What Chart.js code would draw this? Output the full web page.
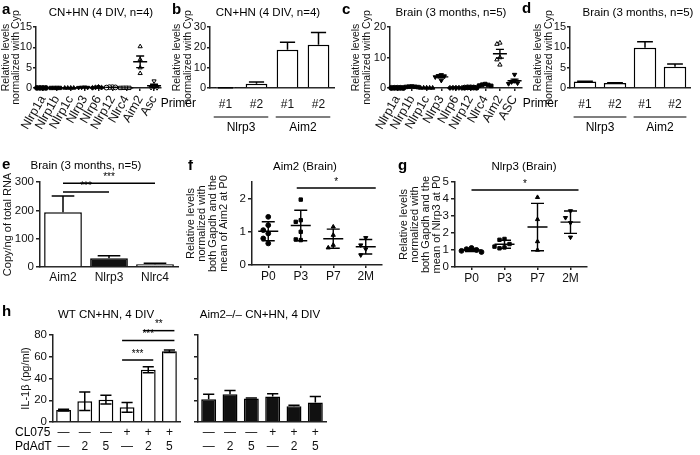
<!DOCTYPE html>
<html><head><meta charset="utf-8">
<script src="https://cdn.jsdelivr.net/npm/chart.js@4.4.1/dist/chart.umd.min.js"></script>
<style>
html,body{margin:0;padding:0;background:#fff;}
body{position:relative;width:700px;height:455px;overflow:hidden;}
canvas{position:absolute;}
</style></head><body>
<script>
// ---------------- DATA ----------------
// a: CN+HN (4 DIV, n=4)
const catsA = ['Nlrp1a','Nlrp1b','Nlrp1c','Nlrp3','Nlrp6','Nlrp12','Nlrc4','Aim2','Asc'];
const valsA = [
  [0.02,0.01,0.02,0.01],
  [0.03,0.02,0.02,0.01],
  [0.01,0.02,0.01,0.01],
  [0.2,0.15,0.1,0.12],
  [0.25,0.1,0.15,0.05],
  [0.2,0.15,0.2,0.1],
  [0.05,0.03,0.04,0.02],
  [10.2,7.0,5.0,3.6],
  [1.7,0.3,0.1,0.05]
];
const yTicksA = [0,5,10,15];
// b: CN+HN primers
const primersB = ['#1','#2','#1','#2'];
const genesB = ['Nlrp3','Aim2'];
const meanB = [0.1,2.1,18.8,21.3];
const semB = [0.05,0.9,3.7,6.0];
const yTicksB = [0,10,20,30];
// c: Brain (3 months, n=5)
const catsC = ['Nlrp1a','Nlrp1b','Nlrp1c','Nlrp3','Nlrp6','Nlrp12','Nlrc4','Aim2','ASC'];
const valsC = [
  [0.05,0.04,0.06,0.03,0.05],
  [0.5,0.4,0.35,0.45,0.3],
  [0.05,0.03,0.04,0.06,0.02],
  [4.3,4.0,3.9,3.6,2.5],
  [0.05,0.04,0.03,0.06,0.05],
  [0.2,0.15,0.1,0.2,0.12],
  [1.3,1.1,1.0,0.8,0.7],
  [14.8,14.4,10.0,9.3,7.6],
  [4.4,2.4,2.0,1.6,1.4]
];
const yTicksC = [0,5,10,15,20];
// d: Brain primers
const primersD = ['#1','#2','#1','#2'];
const genesD = ['Nlrp3','Aim2'];
const meanD = [1.6,1.2,9.9,5.25];
const semD = [0.05,0.12,1.5,0.65];
const yTicksD = [0,5,10,15];
// e: copies
const catsE = ['Aim2','Nlrp3','Nlrc4'];
const meanE = [193,31,10];
const semE = [58,9,3];
const yTicksE = [0,100,200,300];
const sigE = [[0,1,265,'***'],[0,2,296,'***']];
// f: Aim2 (Brain)
const timeF = ['P0','P3','P7','2M'];
const valsF = [
  [1.45,1.2,1.05,0.95,0.8,0.65],
  [1.97,1.35,1.3,1.0,0.77,0.75],
  [1.15,0.9,0.6,0.52],
  [0.82,0.6,0.48,0.3]
];
const yTicksF = [0,0.5,1,1.5,2,2.5];
const sigF = [[1,3,2.32,'*']];
// g: Nlrp3 (Brain)
const timeG = ['P0','P3','P7','2M'];
const valsG = [
  [1.12,1.05,1.0,0.95,0.88],
  [1.65,1.6,1.35,1.2,1.15,1.1],
  [4.1,2.8,1.5,1.0],
  [3.3,2.9,2.6,1.75]
];
const yTicksG = [0,1,2,3,4,5];
const sigG = [[0,3,4.53,'*']];
// h: IL-1beta
const cl075 = ['—','—','—','+','+','+'];
const pdadt = ['—','2','5','—','2','5'];
const il1bWT = [11,19,20.5,13.5,48,65];
const errWT = [0.8,8.5,4,4.5,2.7,1.2];
const il1bKO = [21,25.5,21.5,23.5,14.5,18];
const errKO = [4.5,3.5,0.5,2.5,1,5.5];
const yTicksH = [0,20,40,60,80];
const sigH = [[3,4,57,'***'],[3,5,75,'***'],[4,5,84,'**']];

// ---------------- STYLE / HELPERS ----------------
const FAM = '"Liberation Sans", Arial, Helvetica, sans-serif';
const AX = '#222';
Chart.defaults.font.family = FAM;
Chart.defaults.color = '#111';
// marker styles per column (Prism-like): [shape, rotation, filled]
const shapes = [['circle',0,1],['rect',0,1],['triangle',0,1],['triangle',180,1],['rectRot',0,1],['circle',0,0],['rect',0,0],['triangle',0,0],['triangle',180,0]];
const shapesC = [['circle',0,1],['rect',0,1],['triangle',0,1],['triangle',180,1],['rectRot',0,1],['circle',0,1],['rect',0,1],['triangle',0,0],['triangle',180,1]];
const shapesT = [['circle',0,1],['rect',0,1],['triangle',0,1],['triangle',180,1]];

function canvasAt(box){
  const c=document.createElement('canvas');
  c.width=box[2]; c.height=box[3];
  c.style.left=box[0]+'px'; c.style.top=box[1]+'px';
  c.style.width=box[2]+'px'; c.style.height=box[3]+'px';
  document.body.appendChild(c); return c;
}
function place(box,yLeft,plot){
  const [bx,by,bw,bh]=box,[pl,pt,pr,pb]=plot;
  return {pad:{left:yLeft-bx,top:pt-by,right:bx+bw-pr,bottom:0},yW:pl-yLeft,xH:by+bh-pb};
}
function yLin(min,max,ticks,title,w,showLabels,f){
  f=f||{};
  const ts=f.title||11, ks=f.tick||11.5;
  return {type:'linear',min:min,max:max,
    afterFit:s=>{s.width=w;},
    afterBuildTicks:s=>{s.ticks=ticks.map(v=>({value:v}));},
    border:{display:true,color:AX,width:1.5},
    grid:{display:true,drawOnChartArea:false,drawTicks:true,tickLength:f.tl||4,color:AX,lineWidth:1.5},
    ticks:{display:showLabels!==false,padding:f.pad||2,font:{size:ks,family:FAM},color:'#111',callback:v=>String(v)},
    title:title?{display:true,text:title,padding:{top:0,bottom:0},font:{size:ts,family:FAM,lineHeight:f.lh||1.0},color:'#111'}:{display:false}
  };
}
function xLin(cats,h,rot,tl,pad,fs){
  return {type:'linear',min:-0.5,max:cats.length-0.5,
    afterFit:s=>{s.height=h;},
    afterBuildTicks:s=>{s.ticks=cats.map((c,i)=>({value:i}));},
    border:{display:true,color:AX,width:1.5},
    grid:{display:true,drawOnChartArea:false,drawTicks:true,tickLength:tl,color:AX,lineWidth:1.5},
    ticks:{autoSkip:false,minRotation:rot,maxRotation:rot,padding:pad,font:{size:fs||12,family:FAM},color:'#111',callback:v=>cats[v]}
  };
}
function xCat(h,pad,lh){
  return {type:'category',offset:true,
    afterFit:s=>{s.height=h;},
    border:{display:true,color:AX,width:1.5},
    grid:{display:false,drawOnChartArea:false,drawTicks:false},
    ticks:{autoSkip:false,maxRotation:0,minRotation:0,padding:pad,font:{size:12,family:FAM,lineHeight:lh||1.2},color:'#111'}
  };
}
// beeswarm-like spreading of overlapping points (layout only)
function swarm(vals,i,yUpp,xUpp,thrPx,stepPx){
  const out=new Array(vals.length), placed=[];
  const order=vals.map((v,j)=>j).sort((a,b)=>vals[b]-vals[a]);
  order.forEach(j=>{
    const v=vals[j];
    for(let k=0;k<30;k++){
      const off=k===0?0:(k%2?-Math.ceil(k/2):Math.ceil(k/2));
      const clash=placed.some(p=>p.off===off&&Math.abs(p.v-v)/yUpp<thrPx);
      if(!clash){placed.push({off:off,v:v});out[j]={x:i+off*stepPx*xUpp,y:v};break;}
    }
  });
  return out;
}
function scatterSets(cats,vals,sty,r,yUpp,xUpp,thr,step){
  return cats.map((c,i)=>({type:'scatter',label:c,clip:false,
    data:swarm(vals[i],i,yUpp,xUpp,thr,step),
    pointStyle:sty[i][0],pointRotation:sty[i][1],pointRadius:r,
    pointBackgroundColor:sty[i][2]?'#000':'#fff',pointBorderColor:'#000',pointBorderWidth:1}));
}

// ---------------- PLUGINS ----------------
const deco={id:'deco',afterDraw(chart,args,o){
  if(!o||!o.box) return;
  const ctx=chart.ctx, ox=o.box[0], oy=o.box[1];
  ctx.save(); ctx.fillStyle='#000'; ctx.strokeStyle='#000'; ctx.textBaseline='middle';
  if(o.letter){ctx.font='bold 15px '+FAM; ctx.textAlign='left'; ctx.fillText(o.letter[0],o.letter[1]-ox,o.letter[2]-oy);}
  if(o.title){ctx.font='11.5px '+FAM; ctx.textAlign='center'; ctx.fillText(o.title[0],o.title[1]-ox,o.title[2]-oy);}
  if(o.texts) o.texts.forEach(t=>{ctx.font=(t[3]||12)+'px '+FAM; ctx.textAlign=t[4]||'left'; ctx.fillText(t[0],t[1]-ox,t[2]-oy);});
  if(o.groups){
    const xs=chart.scales.x, ca=chart.chartArea, g=o.groups;
    const sp=xs.getPixelForValue(1)-xs.getPixelForValue(0);
    ctx.lineWidth=1.2; ctx.font='12px '+FAM; ctx.textAlign='center';
    g.items.forEach(it=>{
      const x1=xs.getPixelForValue(it[1])-sp*g.half, x2=xs.getPixelForValue(it[2])+sp*g.half, y=ca.bottom+g.lineDy;
      ctx.beginPath(); ctx.moveTo(x1,y); ctx.lineTo(x2,y); ctx.stroke();
      ctx.fillText(it[0],(x1+x2)/2,ca.bottom+g.labelDy);
    });
    if(g.header){ctx.textAlign='right'; ctx.fillText(g.header,ca.left-g.headerDx,ca.bottom+g.headerDy);}
  }
  ctx.restore();
}};
const stats={id:'stats',afterDatasetsDraw(chart,args,o){
  if(!o||!o.groups) return;
  const ctx=chart.ctx, xs=chart.scales.x, ys=chart.scales.y;
  ctx.save(); ctx.strokeStyle='#000'; ctx.lineWidth=1.4;
  o.groups.forEach((vals,i)=>{
    const n=vals.length, m=vals.reduce((a,b)=>a+b,0)/n;
    const sd=Math.sqrt(vals.reduce((a,b)=>a+(b-m)*(b-m),0)/(n-1));
    const e=o.kind==='sem'?sd/Math.sqrt(n):sd;
    const x=xs.getPixelForValue(i), ym=ys.getPixelForValue(m);
    const yt=ys.getPixelForValue(m+e), yb=ys.getPixelForValue(Math.max(m-e,ys.min));
    ctx.beginPath();
    ctx.moveTo(x-o.mean,ym); ctx.lineTo(x+o.mean,ym);
    ctx.moveTo(x,yt); ctx.lineTo(x,yb);
    ctx.moveTo(x-o.cap,yt); ctx.lineTo(x+o.cap,yt);
    ctx.moveTo(x-o.cap,yb); ctx.lineTo(x+o.cap,yb);
    ctx.stroke();
  });
  ctx.restore();
}};
const barErr={id:'barErr',afterDatasetsDraw(chart,args,o){
  if(!o||!o.errs) return;
  const ctx=chart.ctx, ys=chart.scales.y, meta=chart.getDatasetMeta(0), vals=chart.data.datasets[0].data;
  ctx.save(); ctx.strokeStyle='#000'; ctx.lineWidth=1.5;
  meta.data.forEach((bar,i)=>{
    const e=o.errs[i], v=vals[i];
    const yt=ys.getPixelForValue(v+e), yb=o.two?ys.getPixelForValue(Math.max(v-e,0)):ys.getPixelForValue(v);
    const hw=bar.width*o.cap/2;
    ctx.beginPath(); ctx.moveTo(bar.x,yb); ctx.lineTo(bar.x,yt);
    ctx.moveTo(bar.x-hw,yt); ctx.lineTo(bar.x+hw,yt);
    if(o.two){ctx.moveTo(bar.x-hw,yb); ctx.lineTo(bar.x+hw,yb);}
    ctx.stroke();
  });
  ctx.restore();
}};
const sig={id:'sig',afterDatasetsDraw(chart,args,o){
  if(!o||!o.pairs) return;
  const ctx=chart.ctx, xs=chart.scales.x, ys=chart.scales.y;
  ctx.save(); ctx.strokeStyle='#000'; ctx.fillStyle='#000'; ctx.lineWidth=1.5;
  ctx.font='10px '+FAM; ctx.textAlign='center'; ctx.textBaseline='bottom';
  o.pairs.forEach(p=>{
    const x1=xs.getPixelForValue(p[0])-(o.padL||0), x2=xs.getPixelForValue(p[1])+(o.padR||0), y=ys.getPixelForValue(p[2]);
    ctx.beginPath(); ctx.moveTo(x1,y); ctx.lineTo(x2,y); ctx.stroke();
    ctx.fillText(p[3],(x1+x2)/2,y-1);
  });
  ctx.restore();
}};
Chart.register(deco,stats,barErr,sig);

function baseOpts(L,extraPlugins,scales){
  return {responsive:false,animation:false,events:[],layout:{padding:L.pad},
    plugins:Object.assign({legend:{display:false},tooltip:{enabled:false},title:{display:false}},extraPlugins),
    scales:scales};
}
function hatch(){
  const p=document.createElement('canvas'); p.width=4; p.height=4;
  const g=p.getContext('2d'); g.fillStyle='#bdbdbd'; g.fillRect(0,0,4,4);
  g.fillStyle='#444'; g.fillRect(0,0,1,1); g.fillRect(2,2,1,1); g.fillRect(2,0,1,1); g.fillRect(0,2,1,1);
  return g.createPattern(p,'repeat');
}
const ROW1Y = {title:10.5,tick:11,lh:1.0,tl:3,pad:1};
const YLAB1 = ['Relative levels','normalized with Cyp'];

// ---------------- PANEL a ----------------
(function(){
  const box=[0,0,172,160], yLeft=0.5, plot=[36,27,161,88];
  const L=place(box,yLeft,plot);
  const yUpp=15/(plot[3]-plot[1]), xUpp=9/(plot[2]-plot[0]);
  new Chart(canvasAt(box),{type:'scatter',
    data:{datasets:scatterSets(catsA,valsA,shapes,2.4,yUpp,xUpp,4.5,3)},
    options:baseOpts(L,{deco:{box:box,letter:['a',2,10],title:['CN+HN (4 DIV, n=4)',101,13]},stats:{groups:valsA,kind:'sem',mean:7,cap:4}},
      {x:xLin(catsA,L.xH,60,3,2,12.5),y:yLin(0,15,yTicksA,YLAB1,L.yW,true,ROW1Y)})});
})();
// ---------------- PANEL b ----------------
(function(){
  const box=[155,0,185,160], yLeft=172, plot=[210,27,334,88];
  const L=place(box,yLeft,plot);
  new Chart(canvasAt(box),{type:'bar',
    data:{labels:primersB,datasets:[{data:meanB,backgroundColor:'#fff',borderColor:'#000',borderWidth:1.5,barPercentage:0.7,categoryPercentage:1}]},
    options:baseOpts(L,{deco:{box:box,letter:['b',172,10],title:['CN+HN (4 DIV, n=4)',268,13],
        groups:{items:[[genesB[0],0,1],[genesB[1],2,3]],half:0.38,lineDy:29,labelDy:40,header:'Primer',headerDx:14,headerDy:16}},
        barErr:{errs:semB,cap:0.7}},
      {x:xCat(L.xH,9),y:yLin(0,30,yTicksB,YLAB1,L.yW,true,ROW1Y)})});
})();
// ---------------- PANEL c ----------------
(function(){
  const box=[338,0,192,160], yLeft=351, plot=[390,27,522,88];
  const L=place(box,yLeft,plot);
  const yUpp=20/(plot[3]-plot[1]), xUpp=9/(plot[2]-plot[0]);
  new Chart(canvasAt(box),{type:'scatter',
    data:{datasets:scatterSets(catsC,valsC,shapesC,2.5,yUpp,xUpp,4.5,3)},
    options:baseOpts(L,{deco:{box:box,letter:['c',342,10],title:['Brain (3 months, n=5)',451,13]},stats:{groups:valsC,kind:'sem',mean:7,cap:4}},
      {x:xLin(catsC,L.xH,60,3,2,12.5),y:yLin(0,20,yTicksC,YLAB1,L.yW,true,ROW1Y)})});
})();
// ---------------- PANEL d ----------------
(function(){
  const box=[515,0,185,160], yLeft=533, plot=[570,27,690,88];
  const L=place(box,yLeft,plot);
  new Chart(canvasAt(box),{type:'bar',
    data:{labels:primersD,datasets:[{data:meanD,backgroundColor:'#fff',borderColor:'#000',borderWidth:1.5,barPercentage:0.75,categoryPercentage:1}]},
    options:baseOpts(L,{deco:{box:box,letter:['d',522,9],title:['Brain (3 months, n=5)',638,13],
        groups:{items:[[genesD[0],0,1],[genesD[1],2,3]],half:0.38,lineDy:29,labelDy:40,header:'Primer',headerDx:12,headerDy:16}},
        barErr:{errs:semD,cap:0.7}},
      {x:xCat(L.xH,9),y:yLin(0,15,yTicksD,YLAB1,L.yW,true,ROW1Y)})});
})();
// ---------------- PANEL e ----------------
(function(){
  const box=[0,160,185,130], yLeft=2, plot=[40,182,178,267];
  const L=place(box,yLeft,plot);
  new Chart(canvasAt(box),{type:'bar',
    data:{labels:catsE,datasets:[{data:meanE,backgroundColor:['#fff','#111',hatch()],borderColor:'#000',borderWidth:1.5,barPercentage:0.82,categoryPercentage:1}]},
    options:baseOpts(L,{deco:{box:box,letter:['e',2,165],title:['Brain (3 months, n=5)',86,166]},
        barErr:{errs:semE,cap:0.6},sig:{pairs:sigE}},
      {x:xCat(L.xH,3),y:yLin(0,300,yTicksE,'Copy/ng of total RNA',L.yW)})});
})();
// ---------------- PANEL f ----------------
(function(){
  const box=[180,160,210,130], yLeft=185.5, plot=[252,182,382,265];
  const L=place(box,yLeft,plot);
  const yUpp=2.5/(plot[3]-plot[1]), xUpp=4/(plot[2]-plot[0]);
  new Chart(canvasAt(box),{type:'scatter',
    data:{datasets:scatterSets(timeF,valsF,shapesT,2.4,yUpp,xUpp,8,5)},
    options:baseOpts(L,{deco:{box:box,letter:['f',188,166],title:['Aim2 (Brain)',305,167]},
        stats:{groups:valsF,kind:'sd',mean:10,cap:6.5},sig:{pairs:sigF,padL:4,padR:10}},
      {x:xLin(timeF,L.xH,0,3,1),y:yLin(0,2.5,yTicksF,['Relative levels','normalized with','both Gapdh and the','mean of Aim2 at P0'],L.yW)})});
})();
// ---------------- PANEL g ----------------
(function(){
  const box=[393,160,210,130], yLeft=398.5, plot=[455,182,587,267];
  const L=place(box,yLeft,plot);
  const yUpp=5/(plot[3]-plot[1]), xUpp=4/(plot[2]-plot[0]);
  new Chart(canvasAt(box),{type:'scatter',
    data:{datasets:scatterSets(timeG,valsG,shapesT,2.4,yUpp,xUpp,8,5)},
    options:baseOpts(L,{deco:{box:box,letter:['g',398,166],title:['Nlrp3 (Brain)',524,167]},
        stats:{groups:valsG,kind:'sd',mean:10,cap:6.5},sig:{pairs:sigG,padL:0,padR:8}},
      {x:xLin(timeG,L.xH,0,3,1),y:yLin(0,5,yTicksG,['Relative levels','normalized with','both Gapdh and the','mean of Nlrp3 at P0'],L.yW)})});
})();
// ---------------- PANEL h (WT) ----------------
const hLabels = cl075.map((c,i)=>[c,pdadt[i]]);
(function(){
  const box=[0,300,190,155], yLeft=20.5, plot=[53,335,180,422];
  const L=place(box,yLeft,plot);
  new Chart(canvasAt(box),{type:'bar',
    data:{labels:hLabels,datasets:[{data:il1bWT,backgroundColor:'#fff',borderColor:'#000',borderWidth:1.5,barPercentage:0.7,categoryPercentage:1}]},
    options:baseOpts(L,{deco:{box:box,letter:['h',2,312],title:['WT CN+HN, 4 DIV',106,315],
        texts:[['CL075',15,433,12,'left'],['PdAdT',15,447,12,'left']]},
        barErr:{errs:errWT,cap:0.75,two:true},sig:{pairs:sigH,padL:5,padR:5}},
      {x:xCat(L.xH,4,1.17),y:yLin(0,80,yTicksH,'IL-1β (pg/ml)',L.yW)})});
})();
// ---------------- PANEL h (Aim2-/-) ----------------
(function(){
  const box=[185,300,150,155], yLeft=190, plot=[198,335,326,422];
  const L=place(box,yLeft,plot);
  new Chart(canvasAt(box),{type:'bar',
    data:{labels:hLabels,datasets:[{data:il1bKO,backgroundColor:'#111',borderColor:'#000',borderWidth:1.5,barPercentage:0.7,categoryPercentage:1}]},
    options:baseOpts(L,{deco:{box:box,title:['Aim2–/– CN+HN, 4 DIV',260,315]},
        barErr:{errs:errKO,cap:0.75}},
      {x:xCat(L.xH,4,1.17),y:yLin(0,80,yTicksH,null,L.yW,false)})});
})();
</script>
</body></html>
